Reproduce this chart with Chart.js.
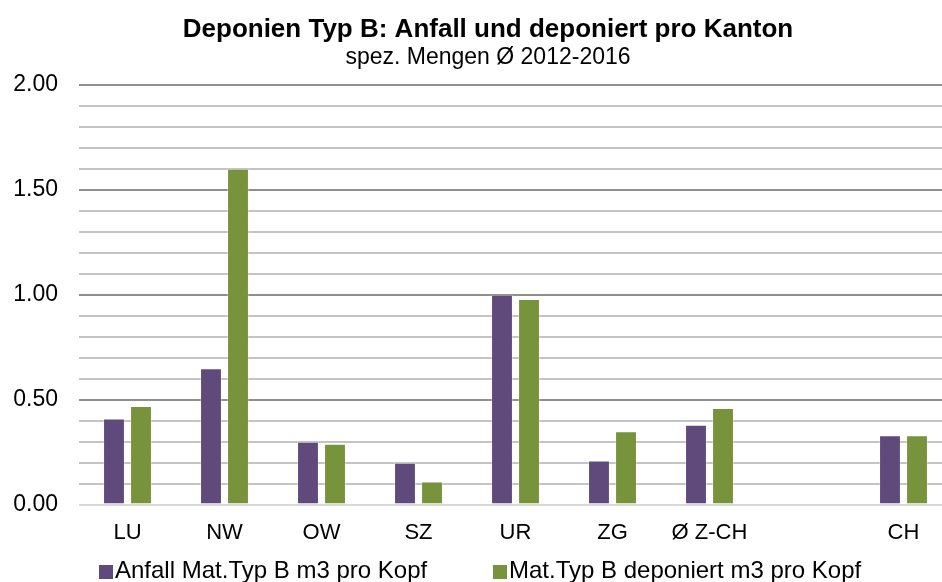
<!DOCTYPE html>
<html>
<head>
<meta charset="utf-8">
<script src="https://cdn.jsdelivr.net/npm/chart.js@4"></script>
<style>
  html, body { margin: 0; padding: 0; background: #fff; overflow: hidden; }
  #wrap { width: 942px; height: 582px; overflow: hidden; position: relative; }
  canvas { display: block; }
  .lg { position: absolute; top: 558px; height: 24px; line-height: 24px; font-family: 'Liberation Sans', Arial, sans-serif; font-size: 24px; color: #000; white-space: nowrap; }
  .sw { position: absolute; top: 565px; width: 14px; height: 14px; }
</style>
</head>
<body>
<div id="wrap"><canvas id="c" width="976" height="582"></canvas><div id="legend"></div></div>
<script>
const categories = ['LU', 'NW', 'OW', 'SZ', 'UR', 'ZG', 'Ø Z-CH', '', 'CH'];
const anfall     = [0.41, 0.65, 0.30, 0.20, 1.00, 0.21, 0.38, null, 0.33];
const deponiert  = [0.47, 1.60, 0.29, 0.11, 0.98, 0.35, 0.46, null, 0.33];
const seriesNames = ['Anfall Mat.Typ B m3 pro Kopf', 'Mat.Typ B deponiert m3 pro Kopf'];
const seriesColors = ['#604A7B', '#77933C'];
const titleText = 'Deponien Typ B: Anfall und deponiert pro Kanton';
const subtitleText = 'spez. Mengen Ø 2012-2016';

const FONT = "'Liberation Sans', Arial, sans-serif";

// legend (HTML text)
const legendPos = [{ sw: 99, tx: 115 }, { sw: 493, tx: 509 }];
const lg = document.getElementById('legend');
seriesNames.forEach((name, i) => {
  const s = document.createElement('div');
  s.className = 'sw'; s.style.left = legendPos[i].sw + 'px'; s.style.background = seriesColors[i];
  const t = document.createElement('div');
  t.className = 'lg'; t.style.left = legendPos[i].tx + 'px'; t.textContent = name;
  lg.appendChild(s); lg.appendChild(t);
});

new Chart(document.getElementById('c'), {
  type: 'bar',
  data: {
    labels: categories,
    datasets: [
      { label: seriesNames[0], data: anfall, backgroundColor: seriesColors[0], borderColor: 'rgba(255,255,255,0.3)', borderWidth: 1,
        categoryPercentage: 0.557, barPercentage: 0.81 },
      { label: seriesNames[1], data: deponiert, backgroundColor: seriesColors[1], borderColor: 'rgba(255,255,255,0.3)', borderWidth: 1,
        categoryPercentage: 0.557, barPercentage: 0.81 }
    ]
  },
  options: {
    responsive: false,
    animation: false,
    layout: { padding: { left: 0, right: 0, top: 0, bottom: 21 } },
    plugins: {
      title: { display: true, text: titleText, color: '#000', font: { family: FONT, size: 26, weight: 'bold', lineHeight: 1.1 }, padding: { top: 16, bottom: 0 } },
      subtitle: { display: true, text: subtitleText, color: '#000', font: { family: FONT, size: 23, lineHeight: 1.1 }, padding: { top: 0, bottom: 15 } },
      legend: { display: false },
      tooltip: { enabled: false }
    },
    scales: {
      x: {
        grid: { display: false, drawTicks: false },
        border: { display: false },
        ticks: { color: '#000', font: { family: FONT, size: 22 }, padding: 15, maxRotation: 0, autoSkip: false }
      },
      y: {
        min: 0, max: 2,
        afterFit: (s) => { s.width = 79; },
        border: { display: false },
        grid: {
          drawTicks: false,
          lineWidth: 2,
          color: (ctx) => {
            const v = Math.round(ctx.tick.value * 10);
            if (v === 0) return '#d9d9d9';
            if (v % 5 === 0) return '#8f8f8f';
            return '#c4c4c4';
          }
        },
        ticks: {
          stepSize: 0.1, autoSkip: false, padding: 21, color: '#000',
          font: { family: FONT, size: 23 },
          callback: (v) => (Math.round(v * 10) % 5 === 0 ? Number(v).toFixed(2) : '')
        }
      },
      yRight: {
        type: 'linear',
        position: 'right',
        display: true,
        afterFit: (s) => { s.width = 24; },
        grid: { display: false, drawTicks: false },
        border: { display: false },
        ticks: { display: false }
      }
    }
  }
});
</script>
</body>
</html>
